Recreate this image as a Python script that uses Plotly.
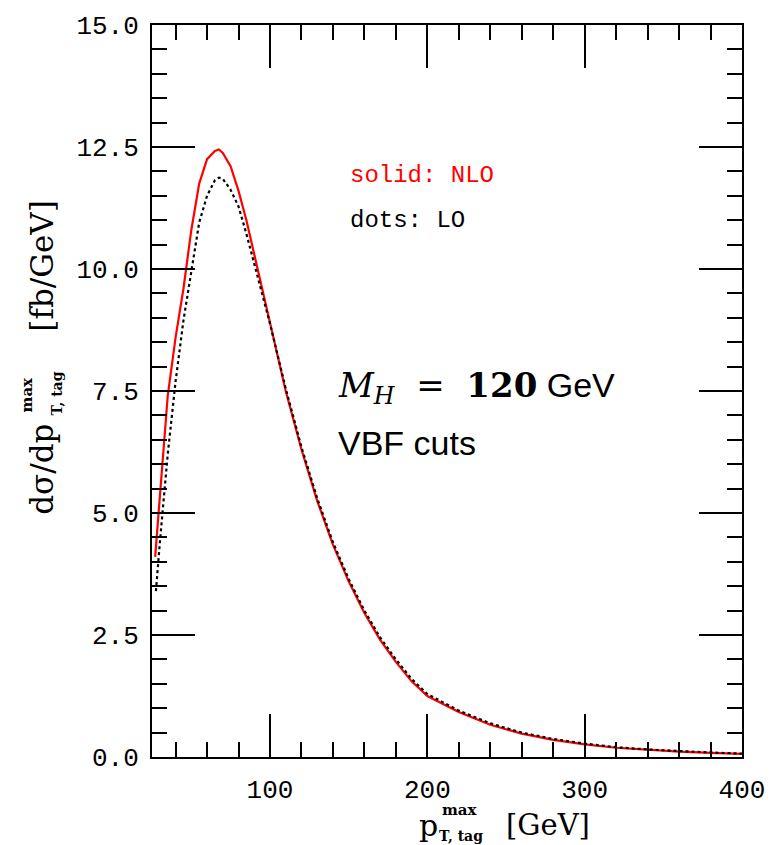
import plotly.graph_objects as go

# ---- data ----
x_nlo = [27, 30, 35, 40, 45, 50, 55, 60, 65, 67.5, 70, 75, 80, 85, 90, 95, 100,
         110, 120, 130, 140, 150, 160, 170, 180, 190, 200, 220, 240, 260, 280,
         300, 320, 340, 360, 380, 400]
y_nlo = [4.1, 5.3, 7.4, 8.6, 9.6, 10.8, 11.75, 12.25, 12.42, 12.45, 12.38, 12.1,
         11.6, 11.0, 10.3, 9.55, 8.85, 7.5, 6.3, 5.25, 4.35, 3.6, 2.95, 2.4,
         1.95, 1.55, 1.25, 0.92, 0.66, 0.48, 0.35, 0.26, 0.19, 0.145, 0.11,
         0.085, 0.065]
x_lo = [27.5, 30, 35, 40, 45, 50, 55, 60, 65, 67.5, 70, 75, 80, 85, 90, 95, 100,
        110, 120, 130, 140, 150, 160, 170, 180, 190, 200, 220, 240, 260, 280,
        300, 320, 340, 360, 380, 400]
y_lo = [3.4, 4.4, 6.2, 7.7, 8.95, 10.0, 10.95, 11.5, 11.82, 11.87, 11.85, 11.62,
        11.28, 10.72, 10.12, 9.5, 8.88, 7.55, 6.35, 5.3, 4.4, 3.65, 3.0, 2.45,
        2.0, 1.6, 1.29, 0.95, 0.69, 0.5, 0.37, 0.275, 0.2, 0.155, 0.12, 0.092,
        0.07]

x_ticks = [100, 200, 300, 400]
y_ticks = [0, 2.5, 5, 7.5, 10, 12.5, 15]

W, H = 780, 845
L, R, T, B = 152, 742, 18, 757

def px(xp):
    return (xp - L) / (R - L)

def py(yp):
    return (B - yp) / (B - T)

MONO = "Liberation Mono"
SERIF = "DejaVu Serif"

fig = go.Figure()
fig.add_trace(go.Scatter(x=x_nlo, y=y_nlo, mode="lines",
                         line=dict(color="#ff0000", width=2.2), showlegend=False))
fig.add_trace(go.Scatter(x=x_lo, y=y_lo, mode="lines",
                         line=dict(color="black", width=2.2, dash="dot"), showlegend=False))

axis_common = dict(showgrid=False, zeroline=False, showline=True, linecolor="black",
                   linewidth=2, mirror="allticks", ticks="inside", ticklen=43,
                   tickwidth=2, tickcolor="black",
                   tickfont=dict(family=MONO, size=26, color="black"))

fig.update_xaxes(range=[25, 400], tickvals=x_ticks, ticktext=[str(v) for v in x_ticks],
                 minor=dict(dtick=20, tick0=0, ticks="inside", ticklen=15,
                            tickwidth=2, tickcolor="black"),
                 ticklabelstandoff=8, **axis_common)
fig.update_yaxes(range=[0, 15], tickvals=y_ticks, tickformat=".1f",
                 minor=dict(dtick=0.5, tick0=0, ticks="inside", ticklen=15,
                            tickwidth=2, tickcolor="black"),
                 ticklabelstandoff=6, **axis_common)

ann = []
def A(text, xp, yp, size, color="black", family=MONO, angle=0, xanchor="center",
      yanchor="middle"):
    ann.append(dict(text=text, x=px(xp), y=py(yp), xref="paper", yref="paper",
                    showarrow=False, textangle=angle, xanchor=xanchor, yanchor=yanchor,
                    font=dict(family=family, size=size, color=color)))

# x-axis title
A("p", 428, 826, 30, family=SERIF)
A("<b>max</b>", 460, 811, 15, family=SERIF)
A("<b>T, tag</b>", 461, 837, 14, family=SERIF)
A("[GeV]", 548, 826, 29, family=SERIF)

# y-axis title (rotated)
A("dσ/dp", 42, 467, 31, family=SERIF, angle=-90)
A("<b>max</b>", 27, 391, 15, family=SERIF, angle=-90)
A("<b>T, tag</b>", 57, 390, 14, family=SERIF, angle=-90)
A("[fb/GeV]", 42, 262, 31, family=SERIF, angle=-90)

# labels in the plot
A("solid: NLO", 348, 170, 24, color="#ff0000", xanchor="left")
A("dots: LO", 348, 215, 24, xanchor="left")
A('<span style="font-family:DejaVu Serif"><i>M</i><sub><i>H</i></sub>  =  <b>120</b></span> GeV',
  336, 384, 34, family="Liberation Sans", xanchor="left")
A("VBF cuts", 336, 440, 34, family="Liberation Sans", xanchor="left")

fig.update_layout(width=W, height=H, margin=dict(l=L, r=W - R, t=T, b=H - B),
                  plot_bgcolor="white", paper_bgcolor="white", annotations=ann)

fig.write_html("out.html")
